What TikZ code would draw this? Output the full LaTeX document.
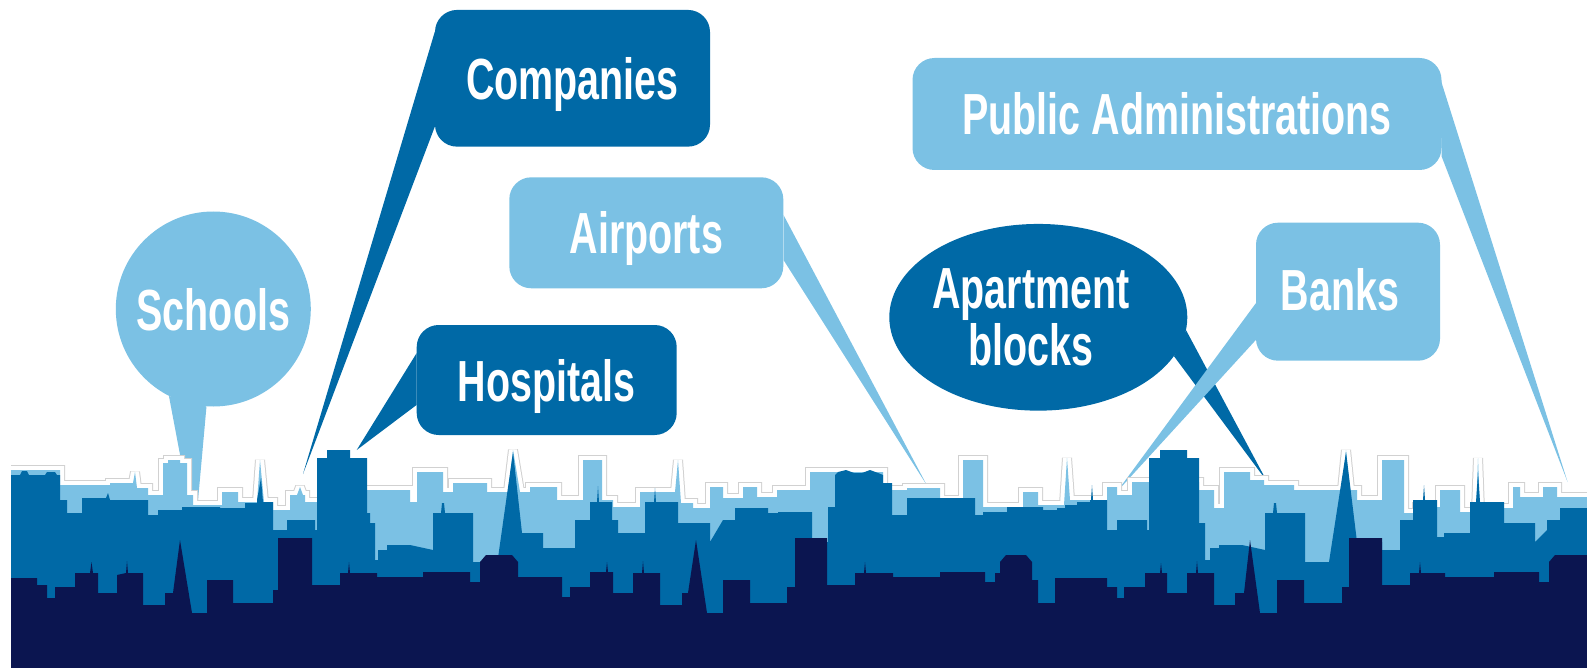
\documentclass[tikz,border=0pt]{standalone}
\usepackage{fontspec}
\usetikzlibrary{shapes.geometric,calc}
\newfontfamily\bubblefont[FakeStretch=0.68]{Liberation Sans}
\definecolor{skylight}{RGB}{123,193,228}
\definecolor{skymid}{RGB}{0,105,166}
\definecolor{skynavy}{RGB}{11,21,80}
\begin{document}
\begin{tikzpicture}[x=1pt,y=-1pt,
  bubbletext/.style={inner sep=0pt,text=white,
    font=\bubblefont\bfseries\fontsize{58}{56.7}\selectfont},
  oneline/.style={bubbletext,text height=42pt,text depth=0pt},
  boxbubble/.style={oneline,rectangle,rounded corners=22pt},
  lightbubble/.style={fill=skylight},
  darkbubble/.style={fill=skymid},
]
\useasboundingbox (0,0) rectangle (1587,668);

% ---------- speech bubbles ----------
\node[boxbubble,darkbubble,minimum width=275pt,minimum height=136.7pt] (comp) at (572.5,78.3) {Companies};
\node[boxbubble,darkbubble,minimum width=260pt,minimum height=110pt] (hosp) at (546.7,380) {Hospitals};
\node[boxbubble,lightbubble,minimum width=274pt,minimum height=111pt] (airp) at (646.3,232.8) {Airports};
\node[boxbubble,lightbubble,minimum width=184pt,minimum height=138pt] (bank) at (1348,291.7) {};
\node[oneline] (banktext) at (1340,289) {Banks};
\node[boxbubble,lightbubble,minimum width=529pt,minimum height=112pt] (pub) at (1177,114) {Public Administrations};
\node[oneline,lightbubble,circle,minimum size=195pt] (sch) at (213.3,309) {Schools};
\node[bubbletext,darkbubble,ellipse,minimum width=298pt,minimum height=186.7pt] (apt) at (1038.3,317.3) {};
\node[bubbletext,align=center] (apttext) at (1031,317.3) {Apartment\\blocks};

% tips of the bubble tails, down in the skyline
\coordinate (schtip)  at (195,534);
\coordinate (comptip) at (303,474);
\coordinate (hosptip) at (356.7,450);
\coordinate (airptip) at (926.7,485);
\coordinate (apttip)  at (1266.7,481);
\coordinate (banktip) at (1116.7,492);
\coordinate (pubtip)  at (1567.6,482);

% ---------- bubble tails ----------
\fill[skylight] (sch.-117) -- (schtip) -- (sch.-94) -- cycle;
\fill[skymid] ($(comp.west)+(0,-46.6)$) -- (comptip) -- ($(comp.west)+(0,48.4)$) -- cycle;
\fill[skymid] ($(hosp.west)+(0,-26.7)$) -- (hosptip) -- ($(hosp.west)+(0,25)$) -- cycle;
\fill[skylight] ($(airp.east)+(0,-17.8)$) -- (airptip) -- ($(airp.east)+(0,27.2)$) -- cycle;
\fill[skymid] (apt.-5) -- (apttip) -- (apt.-16) -- cycle;
\fill[skylight] ($(bank.west)+(0,11.6)$) -- (banktip) -- ($(bank.west)+(0,48.3)$) -- cycle;
\fill[skylight] ($(pub.east)+(-2,-37.3)$) -- (pubtip) -- ($(pub.east)+(0,42.7)$) -- cycle;

% ---------- skyline ----------
\begin{scope}
\clip (11,0) rectangle (1587,668);
\def\farrow{(11,668) -- (11,470)
 -| (60,485) -| (110,483) -| (133,483) -- (135,472) -- (137,488)
 -| (148,495) -| (163,463) -| (168,460) -| (180,463) -| (187,495)
 -| (193,505) -| (222,492) -| (238,502) -| (257,502) -- (260,460) -- (264,502)
 -| (273,510) -| (290,495) -- (297,495) -- (300,487) -- (303,495)
 -| (305,502) -| (367,490) -| (410,502) -| (417,472) -| (443,492)
 -| (453,483) -| (487,492) -| (508,492) -- (513,450) -- (520,492)
 -| (530,487) -| (557,500) -| (583,460) -| (602,500) -| (613,507)
 -| (640,492) -| (675,492) -- (678,460) -- (681,503) -| (693,508)
 -| (710,487) -| (723,498) -| (743,487) -| (757,497) -| (777,490)
 -| (810,472) -| (883,490) -| (907,488) -| (940,500) -| (963,460)
 -| (983,507) -| (1023,492) -| (1038,505) -| (1064,505) -- (1067,458) -- (1070,500)
 -| (1107,487) -| (1117,495) -| (1132,482) -| (1199,490) -| (1214,508)
 -| (1224,472) -| (1250,480) -| (1264,485) -| (1294,490)
 -| (1342,490) -- (1346,450) -- (1350,490) -| (1357,500) -| (1382,460)
 -| (1404,513) -| (1417,507) -| (1440,490) -| (1460,512)
 -| (1476,512) -- (1478,458) -- (1480,512) -| (1504,508) -| (1513,487)
 -| (1520,497) -| (1543,487) -| (1557,497) -| (1590,497) -- (1590,668) -- cycle}
% far row: white rim with a faint grey edge
\draw[black!18,line width=10pt,line join=miter,miter limit=2] \farrow;
\draw[white,line width=8pt,line join=miter,miter limit=2] \farrow;
\fill[skylight] \farrow;

% middle row
\fill[skymid] (11,668) -- (11,475)
 -- (20,475) -- (22,471) -- (27,471) -- (29,475)
 -| (45,475) -- (47,472) -- (55,472) -- (57,475)
 -| (60,500) -| (67,513) -| (82,498) -| (106,498) -- (108,493) -- (110,500)
 -| (148,515) -| (158,510) -| (182,507) -| (220,508) -| (245,503)
 -| (257,500) -- (261,478) -- (263,502) -| (273,530) -| (287,520)
 -| (315,530) -| (317,458) -| (327,450) -| (350,458) -| (367,513)
 -| (370,523) -| (375,560) -| (378,550) -| (387,545) -- (410,545) -- (433,550)
 -- (433,513) -| (441,513) -- (442,503) -- (444,503) -- (445,513)
 -| (473,562) -| (483,558) -| (498,558) -- (513,452) -- (522,533)
 -| (543,548) -| (575,520) -| (590,502) -- (597,502) -- (598,486) -- (599,502)
 -| (612,520) -| (618,533) -| (645,502) -- (654,502) -- (655,488) -- (656,502)
 -| (678,523) -| (710,542) -- (723,520) -| (735,508) -| (768,513)
 -| (778,512) -| (812,542) -| (828,507) -| (835,475)
 -- (838,472) -- (846,470) -- (854,473) -- (862,473) -- (870,470) -- (878,473) -- (883,475)
 -| (883,483) -| (892,515) -| (907,498) -| (975,515) -| (983,512)
 -| (1007,507) -| (1043,510) -| (1057,508) -| (1065,505) -| (1077,502)
 -| (1090,500) -- (1091,500) -- (1092,485) -- (1093,500)
 -| (1107,530) -| (1117,520) -| (1147,530) -| (1149,458) -| (1160,450)
 -| (1187,458) -| (1199,523) -| (1205,560) -| (1210,548)
 -| (1219,545) -- (1242,545) -- (1265,550) -- (1265,513)
 -| (1273,513) -- (1274,503) -- (1276,503) -- (1277,513)
 -| (1305,562) -| (1329,562) -- (1346,452) -- (1357,542)
 -| (1382,550) -| (1400,520) -| (1413,500) -- (1423,500) -- (1424,485) -- (1425,500)
 -| (1437,537) -| (1444,533) -| (1470,502) -- (1476,502) -- (1478,473) -- (1480,502)
 -| (1504,523) -| (1535,542) -- (1547,530) -| (1547,520) -| (1560,508)
 -| (1590,508) -- (1590,668) -- cycle;

% near row
\fill[skynavy] (11,668) -- (11,578)
 -| (37,585) -| (47,598) -| (55,587) -| (75,573)
 -| (90,573) -- (91.5,562) -- (93,573)
 -| (98,593) -| (117,575) -- (126,573) -- (127,561) -- (128,573)
 -| (143,605) -| (165,593) -| (173,593) -- (180,540) -- (192,613)
 -| (207,580) -| (233,603) -| (273,590) -| (278,538) -| (312,585)
 -| (340,573) -- (348,573) -- (349,562) -- (350,573)
 -| (377,577) -| (423,572) -| (470,582)
 -| (480,562) -- (486,555) -- (512,555) -- (518,562) -- (518,577)
 -| (562,597) -| (570,587) -| (590,572) -- (606,572) -- (607,562) -- (608,572)
 -| (613,593) -| (633,573) -- (642,573) -- (643,561) -- (644,573)
 -| (660,605) -| (682,593) -| (688,593) -- (696,540) -- (707,613)
 -| (723,580) -| (750,603) -| (787,587) -| (795,538) -| (827,585)
 -| (855,573) -- (864,573) -- (865,562) -- (866,573)
 -| (893,577) -| (940,572) -| (985,582) -| (995,573)
 -| (1000,562) -- (1006,555) -- (1026,555) -- (1032,562) -- (1032,580)
 -| (1038,603) -| (1055,578) -| (1107,587) -| (1117,598) -| (1124,587)
 -| (1145,573) -- (1160,573) -- (1161,563) -- (1162,573)
 -| (1167,593) -| (1187,573) -- (1196,573) -- (1197,561) -- (1198,573)
 -| (1214,605) -| (1235,593) -| (1244,593) -- (1250,540) -- (1260,613)
 -| (1277,580) -| (1304,603) -| (1342,587) -| (1349,538) -| (1382,585)
 -| (1410,573) -- (1419,573) -- (1420,562) -- (1421,573)
 -| (1445,577) -| (1494,572) -| (1539,582)
 -| (1549,562) -- (1555,555) -- (1590,555) -- (1590,668) -- cycle;
\end{scope}
\end{tikzpicture}
\end{document}
